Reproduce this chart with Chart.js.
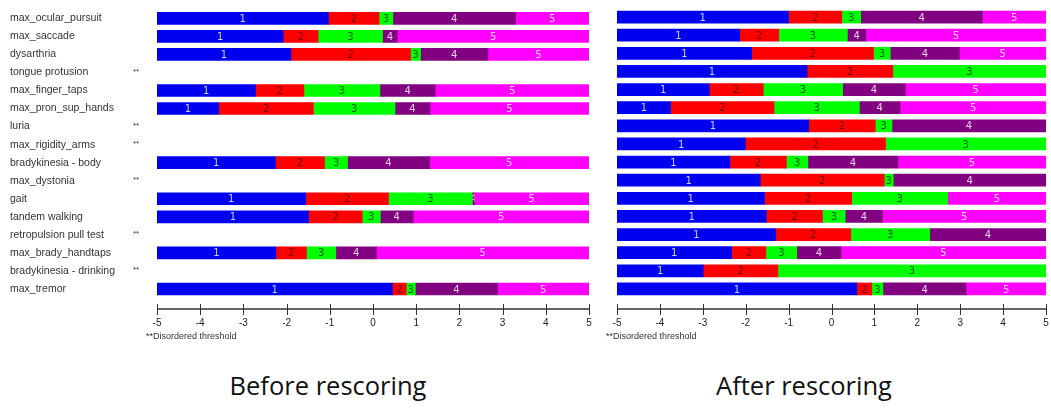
<!DOCTYPE html>
<html>
<head>
<meta charset="utf-8">
<script src="https://cdn.jsdelivr.net/npm/chart.js@4"></script>
<style>
  body { margin: 0; background: #fff; }
  #wrap { position: relative; width: 1051px; height: 410px; background: #fff; overflow: hidden; }
  canvas { position: absolute; top: 0; }
  .title { position: absolute; top: 368px; font-family: "Open Sans", sans-serif; font-size: 25.5px; line-height: 34px; color: #111; text-align: center; width: 300px; }
</style>
</head>
<body>
<div id="wrap">
  <canvas id="before" width="600" height="345" style="left:0"></canvas>
  <canvas id="after" width="451" height="345" style="left:600px"></canvas>
  <div class="title" style="left:178px">Before rescoring</div>
  <div class="title" style="left:654px">After rescoring</div>
</div>
<script>
'use strict';

const categories = ['max_ocular_pursuit', 'max_saccade', 'dysarthria', 'tongue protusion',
    'max_finger_taps', 'max_pron_sup_hands', 'luria', 'max_rigidity_arms',
    'bradykinesia - body', 'max_dystonia', 'gait', 'tandem walking',
    'retropulsion pull test', 'max_brady_handtaps', 'bradykinesia - drinking', 'max_tremor']

// rows marked ** in the left panel
const disordered = [false, false, false, true, false, false, true, true,
    false, true, false, false, true, false, true, false]

// category boundaries (logits); null = no bar drawn
const beforeCuts = [
    [-1.03, 0.14, 0.46, 3.30],
    [-2.08, -1.27, 0.22, 0.56],
    [-1.90, 0.87, 1.10, 2.66],
    null,
    [-2.72, -1.60, 0.16, 1.44],
    [-3.57, -1.38, 0.51, 1.32],
    null,
    null,
    [-2.26, -1.12, -0.59, 1.31],
    null,
    [-1.56, 0.36, 2.30, 2.35],
    [-1.49, -0.25, 0.17, 0.93],
    null,
    [-2.25, -1.54, -0.86, 0.08],
    null,
    [0.45, 0.77, 0.98, 2.88]
]

const afterCuts = [
    [-1.00, 0.24, 0.68, 3.52],
    [-2.14, -1.23, 0.37, 0.80],
    [-1.86, 0.98, 1.37, 2.98],
    [-0.57, 1.43],
    [-2.85, -1.59, 0.26, 1.72],
    [-3.75, -1.34, 0.65, 1.60],
    [-0.53, 1.02, 1.41],
    [-2.01, 1.26],
    [-2.37, -1.05, -0.55, 1.55],
    [-1.66, 1.23, 1.44],
    [-1.56, 0.47, 2.71, 2.71],
    [-1.52, -0.21, 0.32, 1.19],
    [-1.30, 0.45, 2.29],
    [-2.33, -1.53, -0.81, 0.22],
    [-2.99, -1.25],
    [0.59, 0.94, 1.20, 3.14]
]

const scoreLabels = ['1', '2', '3', '4', '5']
const scoreColors = ['#0000f0', '#ff0000', '#00ff00', '#800080', '#ff00ff']
const scoreTextColors = ['#c8d0ff', '#700000', '#006000', '#e8d0e8', '#ffd0ff']
const xTicks = [-5, -4, -3, -2, -1, 0, 1, 2, 3, 4, 5]

const buildDatasets = (cuts) => {
    return scoreLabels.map((lab, k) => {
        const data = cuts.map(c => {
            if (c == null || k > c.length) return null
            const start = k == 0 ? -5 : c[k - 1]
            const end = k < c.length ? c[k] : 5
            if (end - start <= 0) return null
            return [start, end]
        })
        return {
            label: lab,
            data: data,
            backgroundColor: scoreColors[k],
            borderWidth: 0,
            barThickness: 12,
            grouped: false
        }
    })
}

// numbers inside the segments, the axis line with crossing ticks, the footnote
const decorate = {
    id: 'decorate',
    afterDatasetsDraw(chart) {
        const ctx = chart.ctx
        ctx.save()
        ctx.font = '10px "DejaVu Sans", sans-serif'
        ctx.textAlign = 'center'
        ctx.textBaseline = 'middle'
        chart.data.datasets.forEach((ds, k) => {
            chart.getDatasetMeta(k).data.forEach((el, i) => {
                if (ds.data[i] == null) return
                const p = el.getProps(['x', 'y', 'base', 'height'], true)
                const l = Math.min(p.x, p.base), r = Math.max(p.x, p.base)
                if (r - l < 1) return
                ctx.save()
                ctx.beginPath()
                ctx.rect(l, p.y - p.height / 2, r - l, p.height)
                ctx.clip()
                ctx.fillStyle = scoreTextColors[k]
                ctx.fillText(scoreLabels[k], (l + r) / 2, p.y + 1)
                ctx.restore()
            })
        })
        ctx.restore()
    },
    afterDraw(chart) {
        const ctx = chart.ctx
        const xs = chart.scales.x
        const y0 = chart.chartArea.bottom + 11
        ctx.save()
        ctx.strokeStyle = '#333'
        ctx.lineWidth = 1.5
        ctx.beginPath()
        ctx.moveTo(xs.getPixelForValue(-5), y0)
        ctx.lineTo(xs.getPixelForValue(5), y0)
        ctx.stroke()
        ctx.lineWidth = 1
        xTicks.forEach(t => {
            const px = Math.round(xs.getPixelForValue(t)) + 0.5
            ctx.beginPath()
            ctx.moveTo(px, y0 - 5)
            ctx.lineTo(px, y0 + 6)
            ctx.stroke()
        })
        ctx.fillStyle = '#333'
        ctx.font = '9px "Liberation Sans", sans-serif'
        ctx.textAlign = 'left'
        ctx.textBaseline = 'middle'
        ctx.fillText('**Disordered threshold', xs.getPixelForValue(-5) - 11, y0 + 28)

        if (chart.options.showStars) {
            const ys = chart.scales.y
            ctx.font = '8px "Liberation Sans", sans-serif'
            disordered.forEach((d, i) => {
                if (d) ctx.fillText('**', 133, ys.getPixelForValue(i) - 1)
            })
        }
        ctx.restore()
    }
}

const makeChart = (id, cuts, showLabels) => {
    new Chart(document.getElementById(id), {
        type: 'bar',
        data: {
            labels: categories,
            datasets: buildDatasets(cuts)
        },
        plugins: [decorate],
        options: {
            indexAxis: 'y',
            responsive: false,
            animation: false,
            devicePixelRatio: 1,
            showStars: showLabels,
            layout: {
                padding: showLabels
                    ? {left: 10, right: 11, top: 6, bottom: 7}
                    : {left: 17, right: 5, top: 8, bottom: 7}
            },
            plugins: {
                legend: {display: false},
                tooltip: {enabled: false}
            },
            scales: {
                x: {
                    type: 'linear',
                    min: -5,
                    max: 5,
                    afterBuildTicks: (s) => { s.ticks = xTicks.map(v => ({value: v})) },
                    afterFit: (s) => {
                        s.height = 40
                        s.paddingLeft = 0
                        s.paddingRight = 0
                    },
                    grid: {display: false, drawTicks: false},
                    border: {display: false},
                    ticks: {
                        padding: 19,
                        color: '#222',
                        font: {family: 'Liberation Sans', size: 10},
                        maxRotation: 0
                    }
                },
                y: {
                    display: showLabels,
                    afterFit: (s) => { s.width = showLabels ? 147 : 0 },
                    grid: {display: false, drawTicks: false},
                    border: {display: false},
                    ticks: {
                        crossAlign: 'far',
                        color: '#333',
                        font: {family: 'Liberation Sans', size: 10.5}
                    }
                }
            }
        }
    })
}

makeChart('before', beforeCuts, true)
makeChart('after', afterCuts, false)
</script>
</body>
</html>
